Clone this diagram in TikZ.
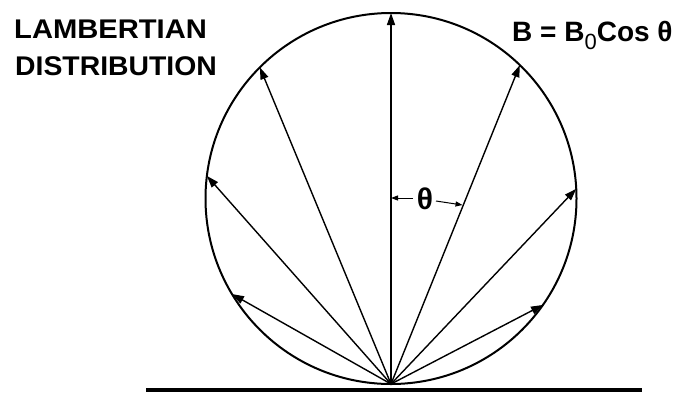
\documentclass[tikz,border=0pt]{standalone}
\usepackage{fontspec}
\usepackage{graphicx}
\setmainfont{Liberation Sans}
\usetikzlibrary{arrows.meta,calc}
\tikzset{
  ray/.style={line width=1.4pt,-{Triangle[length=12pt,width=8pt]}},
  thetaarrow/.style={line width=1pt,-{Triangle[length=7pt,width=5pt]}},
  bigtext/.style={font=\bfseries\fontsize{27}{27}\selectfont,anchor=base west,inner sep=0pt}
}
\begin{document}
\begin{tikzpicture}[x=1pt,y=-1pt]
\useasboundingbox (0,0) rectangle (676,392);
\def\R{185.5}
\coordinate (C) at (391,198.5);
\coordinate (P) at (391,384);
% circle
\draw[line width=2pt] (C) circle[radius=\R];
% base
\coordinate (B1) at (146,389.5);
\coordinate (B2) at (642,389.5);
\draw[line width=4pt] (B1) -- (B2);
% ray tips on the circle
\foreach \n/\t in {l1/-22.5,l2/-41.5,l3/-60.5,c/0,r1/22,r2/43.5,r3/62.5}{
  \coordinate (\n) at ($(P)+({\R*sin(2*\t)},{-\R*(1+cos(2*\t))})$);
  \draw[ray] (P) -- (\n);
}
% theta annotation
\node[font=\bfseries\fontsize{30}{30}\selectfont,inner sep=0pt] (th) at (425,199) {θ};
\coordinate (ta) at (391,198);
\coordinate (ts) at (413,198);
\coordinate (tb) at (462.5,205);
\coordinate (tt) at (436,201);
\draw[thetaarrow] (ts) -- (ta);
\draw[thetaarrow] (tt) -- (tb);
% texts
\node[bigtext] (lam) at (14,38) {\scalebox{1.08}[1]{LAMBERTIAN}};
\node[bigtext] (dis) at (15,75) {\scalebox{1.05}[1]{DISTRIBUTION}};
\node[font=\bfseries\fontsize{28}{28}\selectfont,anchor=base west,inner sep=0pt] (eq) at (512,41.5)
  {B = B\raisebox{-8pt}{\mdseries\fontsize{22}{22}\selectfont 0}Cos θ};
\end{tikzpicture}
\end{document}
